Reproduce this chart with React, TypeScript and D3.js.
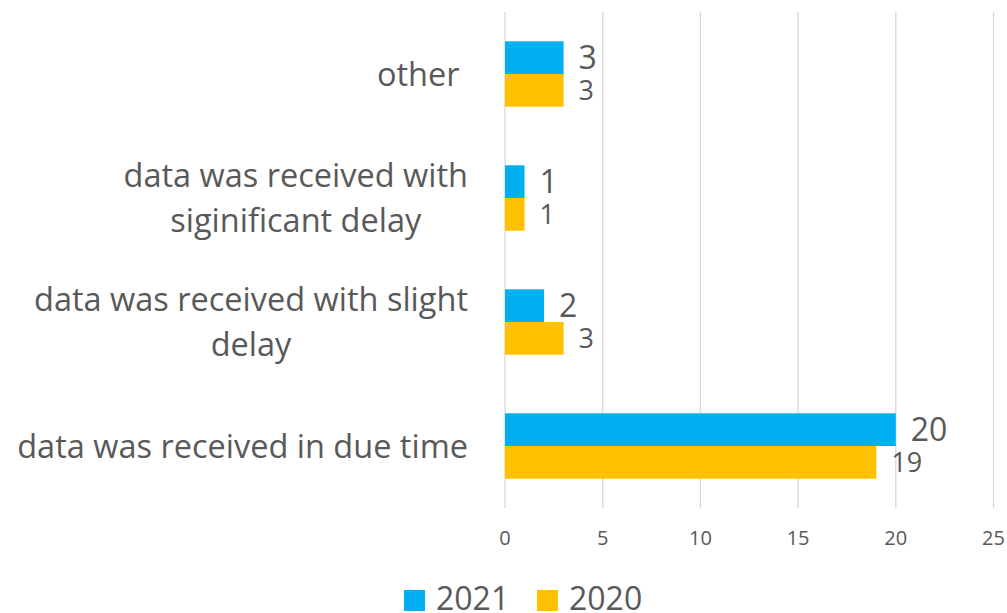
import React, { useMemo } from "react";
import * as d3 from "d3";

const categories = [
  "other ",
  "data was received with\nsiginificant delay",
  "data was received with slight\ndelay",
  "data was received in due time",
];
const series2021 = [3, 1, 2, 20];
const series2020 = [3, 1, 3, 19];
const seriesNames = ["2021", "2020"];
const xTicks = [0, 5, 10, 15, 20, 25];

const W = 1007;
const H = 613;
const COLORS = ["#00B0F0", "#FFC000"];
const TEXT = "#595959";
const FONT = "'Open Sans', sans-serif";

const CAT_FONT = 32.5;

function measure(text: string, size: number) {
  const c = document.createElement("canvas");
  const ctx = c.getContext("2d")!;
  ctx.font = `${size}px 'Open Sans'`;
  return ctx.measureText(text).width;
}

export default function App() {
  const x = d3.scaleLinear().domain([0, 25]).range([505, 993.5]);
  const y = d3.scaleBand<string>().domain(categories).range([12, 508]).paddingInner(0).paddingOuter(0);
  const barH = 32.7;

  const labelX = 468;
  const blocks = useMemo(
    () =>
      categories.map((c) => {
        const lines = c.split("\n");
        const w = d3.max(lines, (l) => measure(l, CAT_FONT)) || 0;
        return { lines, cx: labelX - w / 2 };
      }),
    []
  );

  return (
    <svg width={W} height={H} style={{ position: "absolute", left: 0, top: 0, background: "#fff" }} fontFamily={FONT}>
      {xTicks.map((t) => (
        <line key={"g" + t} x1={x(t)} x2={x(t)} y1={12} y2={508} stroke="#D9D9D9" strokeWidth={1.3} />
      ))}
      {xTicks.map((t) => (
        <text key={"t" + t} x={x(t)} y={545} textAnchor="middle" fontSize={20} fill={TEXT}>
          {t}
        </text>
      ))}
      {categories.map((c, i) => {
        const cy = (y(c) as number) + y.bandwidth() / 2;
        const vals = [series2021[i], series2020[i]];
        return (
          <g key={c}>
            {vals.map((v, s) => {
              const top = cy - barH + s * barH;
              return (
                <g key={s}>
                  <rect x={x(0)} y={top} width={x(v) - x(0)} height={barH} fill={COLORS[s]} />
                  <text
                    x={x(v) + 15}
                    y={top + barH / 2}
                    dy="0.36em"
                    fontSize={s === 0 ? 32 : 27}
                    fill={TEXT}
                  >
                    {v}
                  </text>
                </g>
              );
            })}
            {blocks[i].lines.map((l, k, arr) => {
              const ly = cy + (k - (arr.length - 1) / 2) * 45 + 11.5;
              return (
                <text key={k} x={blocks[i].cx} y={ly} textAnchor="middle" fontSize={CAT_FONT} fill={TEXT} style={{ whiteSpace: "pre" }}>
                  {l}
                </text>
              );
            })}
          </g>
        );
      })}
      {seriesNames.map((n, s) => {
        const lx = s === 0 ? 404 : 537;
        return (
          <g key={n}>
            <rect x={lx} y={590} width={21} height={21} fill={COLORS[s]} />
            <text x={lx + 32} y={610} fontSize={32} fill={TEXT}>
              {n}
            </text>
          </g>
        );
      })}
    </svg>
  );
}
